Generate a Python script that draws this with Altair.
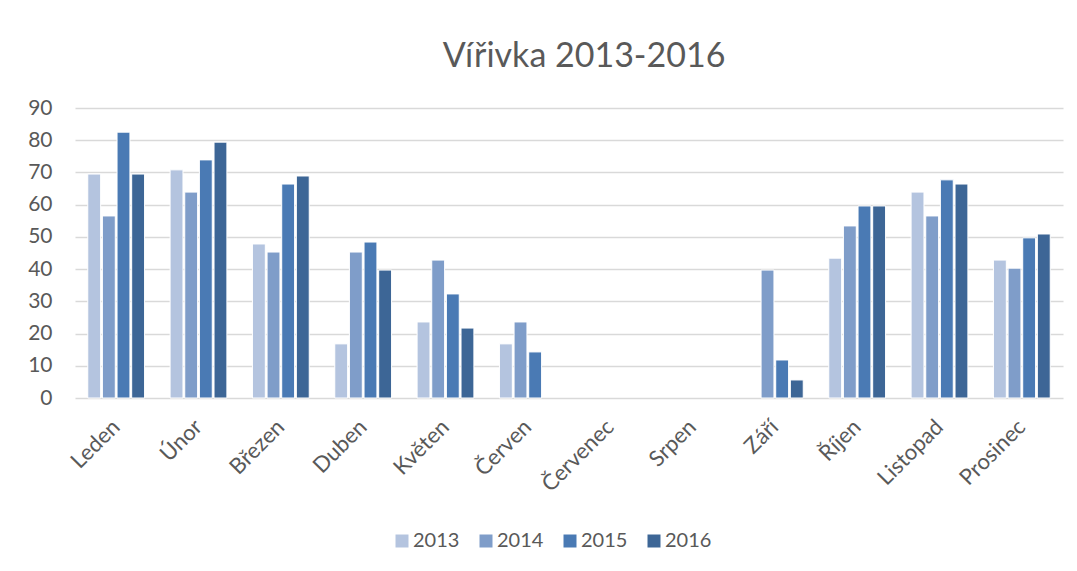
import altair as alt
import pandas as pd

months = ["Leden", "Únor", "Březen", "Duben", "Květen", "Červen",
          "Červenec", "Srpen", "Září", "Říjen", "Listopad", "Prosinec"]
years = ["2013", "2014", "2015", "2016"]
v2013 = [69.5, 70.8, 47.8, 16.8, 23.6, 16.8, None, None, None, 43.4, 63.9, 42.8]
v2014 = [56.5, 63.9, 45.3, 45.3, 42.8, 23.6, None, None, 39.7, 53.4, 56.5, 40.3]
v2015 = [82.5, 73.9, 66.4, 48.4, 32.3, 14.3, None, None, 11.8, 59.6, 67.7, 49.7]
v2016 = [69.5, 79.4, 68.9, 39.7, 21.7, None, None, None, 5.6, 59.6, 66.4, 50.9]
colors = ["#B4C4DF", "#7F9DC9", "#4A7AB4", "#3D6696"]
y_ticks = [0, 10, 20, 30, 40, 50, 60, 70, 80, 90]

rows = []
for yr, vals in zip(years, [v2013, v2014, v2015, v2016]):
    for m, v in zip(months, vals):
        if v is not None:
            rows.append({"month": m, "year": yr, "value": v})
df = pd.DataFrame(rows)

FONT = "Lato"
TXT = "#595959"

chart = alt.Chart(df).mark_bar(stroke="white", strokeWidth=1).encode(
    x=alt.X("month:N", sort=months,
            scale=alt.Scale(domain=months, paddingInner=0.31, paddingOuter=0.155),
            axis=alt.Axis(title=None, labelAngle=-45, labelAlign="right",
                          labelBaseline="middle", labelFontSize=22, labelFont=FONT,
                          labelColor=TXT, labelPadding=25, ticks=False, tickSize=0,
                          domain=False, grid=False)),
    xOffset=alt.XOffset("year:N", scale=alt.Scale(domain=years, paddingInner=0.12)),
    y=alt.Y("value:Q", scale=alt.Scale(domain=[0, 90], nice=False),
            axis=alt.Axis(title=None, values=y_ticks, labelFontSize=21, labelFont=FONT,
                          labelColor=TXT, labelPadding=23, ticks=False, tickSize=0,
                          domain=False, grid=True, gridColor="#D9D9D9", gridWidth=1.5)),
    color=alt.Color("year:N", scale=alt.Scale(domain=years, range=colors),
                    legend=alt.Legend(title=None, orient="none", direction="horizontal",
                                      legendX=317, legendY=423, symbolType="square",
                                      symbolSize=169, symbolStrokeWidth=0,
                                      labelFontSize=20, labelFont=FONT, labelColor=TXT,
                                      labelOffset=1, columnPadding=16, padding=0)),
).properties(
    width=988, height=290,
    padding={"left": 19, "top": 32, "right": 5, "bottom": 5},
    title=alt.TitleParams("Vířivka 2013-2016", fontSize=34, font=FONT, color=TXT,
                          fontWeight="normal", anchor="middle", offset=23, dx=15),
).configure_view(stroke=None)

chart.save("out.html", embed_options={"renderer": "svg", "actions": False})
